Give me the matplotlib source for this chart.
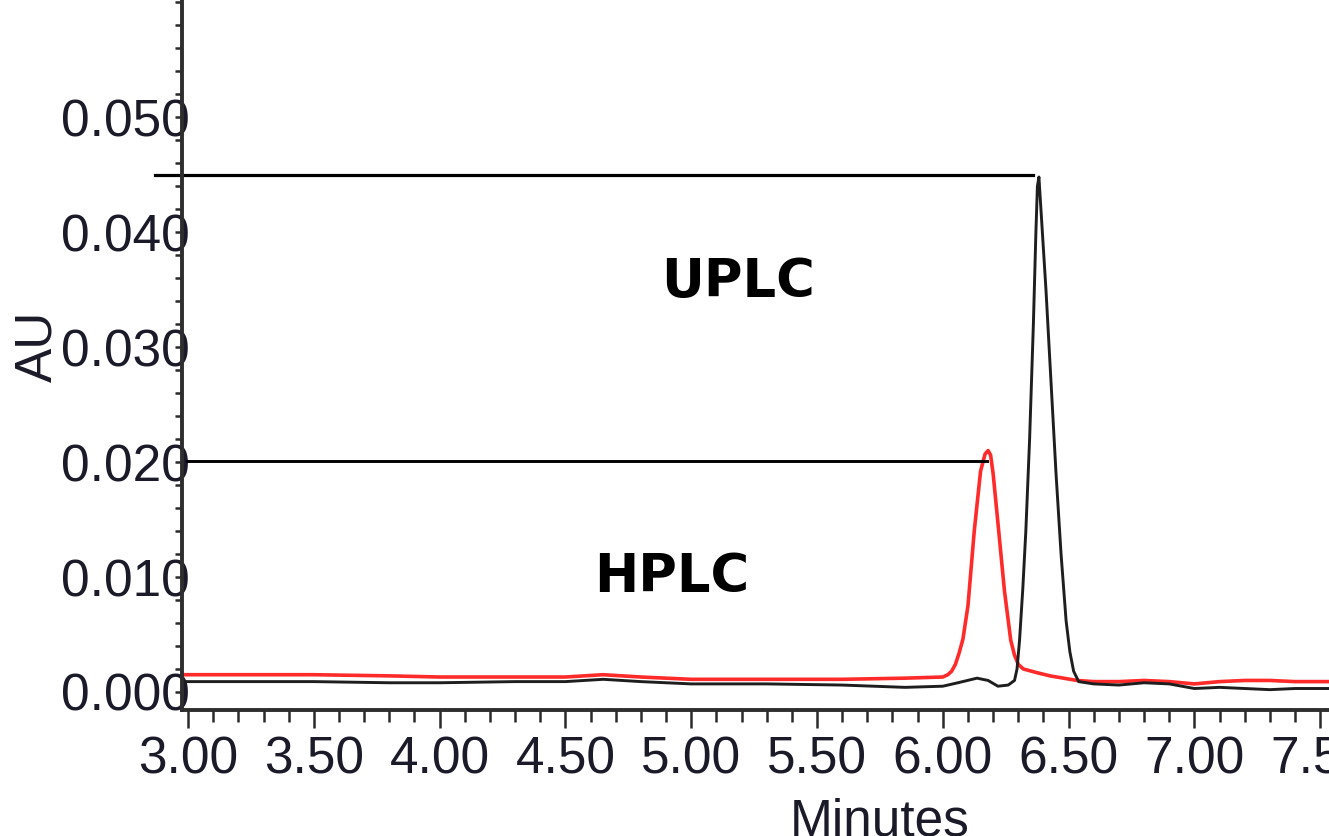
import matplotlib
matplotlib.use("Agg")
import matplotlib.pyplot as plt
import matplotlib.ticker

# UPLC trace (black): minutes / AU
uplc_time = [2.976, 3.2, 3.5, 3.8, 4.0, 4.3, 4.5, 4.65, 4.8, 5.0, 5.3, 5.6, 5.85, 6.0,
             6.06, 6.136, 6.18, 6.219, 6.26, 6.285, 6.295, 6.305, 6.318, 6.33, 6.345,
             6.36, 6.37, 6.376, 6.382, 6.39, 6.41, 6.43, 6.45, 6.47, 6.49, 6.505, 6.52,
             6.54, 6.6, 6.7, 6.8, 6.9, 7.0, 7.1, 7.2, 7.3, 7.4, 7.535]
uplc_au = [0.0009, 0.0009, 0.0009, 0.0008, 0.0008, 0.0009, 0.0009, 0.0011, 0.0009, 0.0007,
           0.0007, 0.0006, 0.0004, 0.0005, 0.0008, 0.0012, 0.0010, 0.0005, 0.0006, 0.0010,
           0.0020, 0.0045, 0.0090, 0.0140, 0.0220, 0.0320, 0.0400, 0.0440, 0.0448, 0.0420,
           0.0350, 0.0270, 0.0190, 0.0120, 0.0062, 0.0035, 0.0018, 0.0009, 0.0007, 0.0006,
           0.0008, 0.0007, 0.0003, 0.0004, 0.0003, 0.0002, 0.0003, 0.0003]

# HPLC trace (red)
hplc_time = [2.976, 3.2, 3.5, 3.8, 4.0, 4.3, 4.5, 4.65, 4.8, 5.0, 5.3, 5.6, 5.85, 6.0,
             6.02, 6.035, 6.05, 6.065, 6.08, 6.10, 6.125, 6.15, 6.168, 6.18, 6.19, 6.20,
             6.22, 6.245, 6.27, 6.285, 6.30, 6.32, 6.37, 6.426, 6.533, 6.6, 6.7, 6.8, 6.9,
             7.0, 7.1, 7.2, 7.3, 7.4, 7.535]
hplc_au = [0.0015, 0.0015, 0.0015, 0.0014, 0.0013, 0.0013, 0.0013, 0.0015, 0.0013, 0.0011,
           0.0011, 0.0011, 0.0012, 0.0013, 0.0015, 0.0018, 0.0024, 0.0034, 0.0046, 0.0075,
           0.0140, 0.0192, 0.0207, 0.0210, 0.0206, 0.0190, 0.0145, 0.0088, 0.0045, 0.0032,
           0.0024, 0.0020, 0.0017, 0.0014, 0.0010, 0.0009, 0.0009, 0.0010, 0.0009, 0.0007,
           0.0009, 0.0010, 0.0010, 0.0009, 0.0009]

# peak height markers (level, start, end)
uplc_mark = (0.045, 2.869, 6.359)
hplc_mark = (0.0201, 2.996, 6.176)

x_ticks = [3.0, 3.5, 4.0, 4.5, 5.0, 5.5, 6.0, 6.5, 7.0, 7.5]
y_ticks = [0.0, 0.01, 0.02, 0.03, 0.04, 0.05]

tick_font = "Liberation Sans"
text_col = "#1a1a28"

fig = plt.figure(figsize=(13.29, 8.36), dpi=100)
ax = fig.add_axes([182 / 1329, 126 / 836, 1 - 182 / 1329, 710 / 836])

ax.plot(hplc_time, hplc_au, color="#ff2a2a", lw=2.6, solid_joinstyle="round")
ax.plot(uplc_time, uplc_au, color="#1e1e1e", lw=2.1, solid_joinstyle="round")

ax.plot([uplc_mark[1], uplc_mark[2]], [uplc_mark[0]] * 2, color="black", lw=2.3, clip_on=False)
ax.plot([hplc_mark[1], hplc_mark[2]], [hplc_mark[0]] * 2, color="black", lw=2.1, clip_on=False)

ax.text(5.186, 0.0344, "UPLC", fontsize=38, fontweight="bold", family="DejaVu Sans",
        ha="center", va="baseline", color="black")
ax.text(4.924, 0.0087, "HPLC", fontsize=38, fontweight="bold", family="DejaVu Sans",
        ha="center", va="baseline", color="black")

ax.set_xlim(2.976, 7.535)
ax.set_ylim(-0.00157, 0.0602)

for s in ["top", "right"]:
    ax.spines[s].set_visible(False)
for s in ["left", "bottom"]:
    ax.spines[s].set_linewidth(2.8)
    ax.spines[s].set_color("#2e2e2e")

ax.set_xticks(x_ticks)
ax.set_xticklabels(["%.2f" % v for v in x_ticks])
ax.set_yticks(y_ticks)
ax.set_yticklabels(["%.3f" % v for v in y_ticks])
ax.xaxis.set_minor_locator(matplotlib.ticker.MultipleLocator(0.1))
ax.yaxis.set_minor_locator(matplotlib.ticker.MultipleLocator(0.002))

ax.tick_params(axis="x", which="major", direction="out", length=13, width=1.8,
               color="#2a2a2a", pad=5, labelsize=37, labelcolor=text_col)
ax.tick_params(axis="x", which="minor", direction="out", length=8.5, width=1.8, color="#2a2a2a")
ax.tick_params(axis="y", which="major", direction="out", length=5, width=1.8,
               color="#2a2a2a", pad=-10.8, labelsize=37, labelcolor=text_col)
ax.tick_params(axis="y", which="minor", direction="out", length=5, width=1.8, color="#2a2a2a")
for lab in ax.get_xticklabels() + ax.get_yticklabels():
    lab.set_family(tick_font)

fig.text(38 / 1329, 1 - 346 / 836, "AU", rotation=90, ha="center", va="center",
         fontsize=37, family=tick_font, color=text_col)
fig.text(880 / 1329, 1 - 797 / 836, "Minutes", ha="center", va="top",
         fontsize=37, family=tick_font, color=text_col)

fig.savefig("out.png", dpi=100)
